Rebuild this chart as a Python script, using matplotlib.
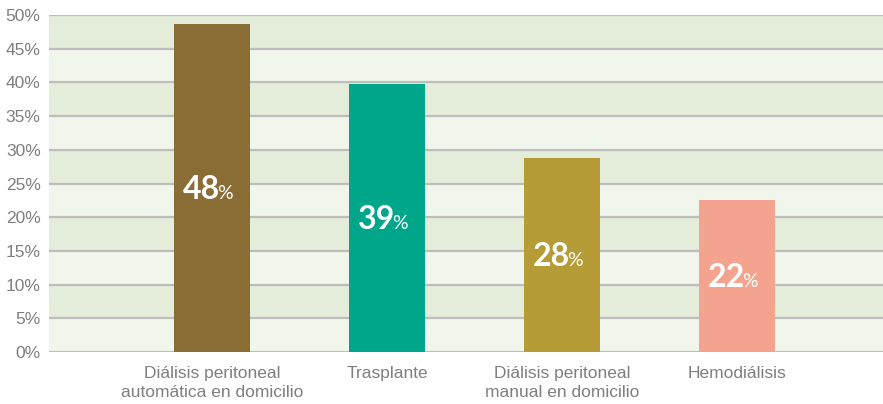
import matplotlib.pyplot as plt
import numpy as np

# Data
categories = [
    "Diálisis peritoneal\nautomática en domicilio",
    "Trasplante",
    "Diálisis peritoneal\nmanual en domicilio",
    "Hemodiálisis",
]
values = [48.7, 39.8, 28.8, 22.6]
value_labels = ["48", "39", "28", "22"]
bar_colors = ["#8a6c35", "#00a68a", "#b59c36", "#f4a38e"]
y_ticks = list(range(0, 51, 5))

band_dark = "#e4ecda"
band_light = "#f1f6ec"
grid_color = "#bdbdbd"
text_gray = "#7f7f7f"

fig = plt.figure(figsize=(8.83, 4.04), dpi=100)
ax = fig.add_axes([49 / 883, 52 / 404, 1 - 49 / 883, 337 / 404])

# alternating horizontal bands
for i in range(len(y_ticks) - 1):
    color = band_dark if i % 2 == 1 else band_light
    ax.axhspan(y_ticks[i], y_ticks[i + 1], color=color, lw=0, zorder=0)
for t in y_ticks:
    ax.axhline(t, color=grid_color, lw=1.6, zorder=1)

x = np.arange(len(categories))
ax.bar(x, values, width=0.434, color=bar_colors, zorder=2)

# value labels: big bold number, small "%" right after it
for xi, v, lab in zip(x, values, value_labels):
    ax.annotate(lab, (xi, v / 2), xytext=(6, -1), textcoords="offset points",
                ha="right", va="center", color="white", fontsize=23,
                fontweight="bold", family="Lato", zorder=3)
    ax.annotate("%", (xi, v / 2), xytext=(4, -4), textcoords="offset points",
                ha="left", va="center", color="white", fontsize=14,
                family="Lato", zorder=3)

ax.set_xlim(-0.931, 3.834)
ax.set_ylim(0, 50)
ax.set_yticks(y_ticks)
ax.set_yticklabels([f"{t}%" for t in y_ticks], color=text_gray, fontsize=12.5,
                   family="Liberation Sans")
ax.set_xticks(x)
ax.set_xticklabels(categories, color=text_gray, fontsize=12.5,
                   family="Liberation Sans", linespacing=1.35)
ax.tick_params(axis="both", length=0)
ax.tick_params(axis="y", pad=6)
ax.tick_params(axis="x", pad=10)
for s in ax.spines.values():
    s.set_visible(False)

fig.savefig("out.png", dpi=100)
